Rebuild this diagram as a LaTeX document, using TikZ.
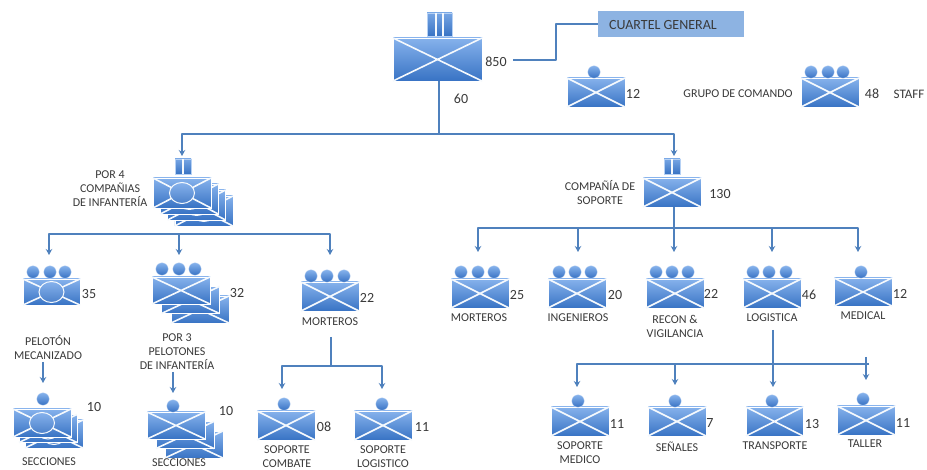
\documentclass[tikz,border=0pt]{standalone}
\usepackage{fontspec}
\setmainfont{Carlito}
\usetikzlibrary{arrows.meta,shadows,shapes.geometric}
\definecolor{linkblue}{HTML}{4F81BD}
\definecolor{hdrblue}{HTML}{8DB3E2}
\definecolor{boxtop}{HTML}{86B2EC}
\definecolor{boxbot}{HTML}{3873C4}
\definecolor{inkgrey}{HTML}{3A3A3A}
\tikzset{
  unitbox/.style={rectangle,inner sep=0pt,outer sep=0pt,draw=white,line width=.8pt,top color=boxtop,bottom color=boxbot,
    drop shadow={shadow xshift=.8pt,shadow yshift=-.8pt,opacity=.3,fill=black}},
  crossline/.style={draw=white!92!boxtop,line width=1.6pt},
  ovalmark/.style={ellipse,inner sep=0pt,outer sep=0pt,draw=white!92!boxtop,line width=1pt,top color=boxtop,bottom color=boxbot!90!white,minimum width=25pt,minimum height=21pt},
  pip/.style={circle,inner sep=0pt,outer sep=0pt,minimum size=12.5pt,draw=white!60!boxtop,line width=.3pt,top color=boxtop,bottom color=boxbot},
  tabbox/.style={rectangle,inner sep=0pt,outer sep=0pt,top color=boxtop!80!boxbot,bottom color=boxbot,draw=boxtop!60!white,line width=.4pt},
  tabline/.style={draw=white!92!boxtop,line width=1.6pt},
  link/.style={draw=linkblue,line width=2.3pt,line join=round},
  linkarrow/.style={link,-{Stealth[length=6pt,width=6.5pt]}},
  lab/.style={inner sep=0pt,outer sep=0pt,text=inkgrey,font=\fontsize{12}{14}\selectfont,align=center},
  num/.style={inner sep=0pt,outer sep=0pt,text=inkgrey,font=\fontsize{14}{15}\selectfont},
}
% x1 y1 x2 y2
\newcommand{\mkrect}[5]{\node[unitbox,minimum width={(#4-(#2))*1pt},minimum height={(#5-(#3))*1pt}] (#1) at ({(#2+#4)/2},{(#3+#5)/2}) {};}
\newcommand{\mkcross}[5]{\mkrect{#1}{#2}{#3}{#4}{#5}\draw[crossline] (#1.north west) -- (#1.south east) (#1.north east) -- (#1.south west);}
\newcommand{\mkoval}[5]{\mkcross{#1}{#2}{#3}{#4}{#5}\node[ovalmark] (#1-o) at (#1.center) {};}
% name x1 y1 x2 y2 dx dy n kind
\newcommand{\mkstack}[9]{\foreach \k in {#8,...,1}{\pgfmathsetmacro{\ox}{\k*#6}\pgfmathsetmacro{\oy}{\k*#7}
  \csname mk#9\endcsname{#1-\k}{#2+\ox}{#3+\oy}{#4+\ox}{#5+\oy}}\csname mk#9\endcsname{#1}{#2}{#3}{#4}{#5}}
\newcommand{\mkpips}[3]{\foreach \px [count=\n] in {#3}{\node[pip] (#1-p\n) at (\px,#2) {};}}
\newcommand{\mktab}[6]{\node[tabbox,minimum width={(#4-(#2))*1pt},minimum height={(#5-(#3))*1pt}] (#1) at ({(#2+#4)/2},{(#3+#5)/2}) {};
  \foreach \tx in {#6}{\draw[tabline] (\tx,#3) -- (\tx,#5);}}
\begin{document}
\begin{tikzpicture}[x=1pt,y=-1pt]
\useasboundingbox (0,0) rectangle (927,470);
\fill[white] (0,0) rectangle (927,470);
% ---- headquarters
\mktab{hqtab}{427}{13}{452}{36}{436,443}
\mkcross{hq}{393}{38}{482}{81}
\node[num] (n850) at (496,62) {850};
\node[num] (n60) at (461,99) {60};
\node[rectangle,fill=hdrblue,inner sep=0pt,minimum width=146pt,minimum height=26pt] (cg) at (671,24) {};
\node[lab,font=\fontsize{14}{15}\selectfont] (cgt) at (663,25.5) {CUARTEL GENERAL};
\coordinate (cgs) at (513,60);
\draw[link] (cgs) -- (556,60) |- (cg.west);
\mkcross{u12}{567}{78}{625}{107}
\mkpips{u12}{72}{594}
\node[num] (n12a) at (633,94) {12};
\node[lab] (lgc) at (738,94) {GRUPO DE COMANDO};
\mkcross{u48}{801}{78}{859}{107}
\mkpips{u48}{72}{811,828,843}
\node[num] (n48) at (872,94) {48};
\node[lab,font=\fontsize{13}{14}\selectfont] (lst) at (909,94) {STAFF};
% ---- infantry company
\mktab{ctab}{175}{159}{191}{174}{183}
\mkstack{co}{153}{178}{211}{208}{7.3}{6}{3}{oval}
\node[lab] (lco) at (110,189) {POR 4\\COMPAÑIAS\\DE INFANTERÍA};
% ---- support company
\mktab{stab}{664}{159}{680}{174}{672}
\mkcross{so}{643}{178}{701}{207}
\node[lab] (lso) at (600,193) {COMPAÑÍA DE\\SOPORTE};
\node[num] (n130) at (720,194) {130};
% ---- trunk
\coordinate (t0) at (439,134);
\coordinate (tl) at (182,156);
\coordinate (tr) at (674,156);
\draw[link] (hq.south -| t0) -- (t0);
\draw[linkarrow] (t0) -| (tl);
\draw[linkarrow] (t0) -| (tr);
% ---- left row
\mkoval{m35}{23}{279}{80}{305}
\mkpips{m35}{272}{33,50,65}
\node[num] (n35) at (89,294) {35};
\mkstack{p32}{152}{277}{210}{304}{9.5}{9.5}{2}{cross}
\mkpips{p32}{269}{162,179,195}
\node[num] (n32) at (237,293) {32};
\mkcross{mo22}{301}{282}{359}{311}
\mkpips{mo22}{276}{311,327,344}
\node[num] (n22a) at (367,298) {22};
\node[lab] (lmo) at (330,322) {MORTEROS};
\coordinate (la) at (49,255);
\coordinate (lb) at (179,255);
\coordinate (lc) at (330,255);
\coordinate (lj) at (179,234);
\draw[linkarrow] (lj) -| (la);
\draw[linkarrow] (lj) -- (lb);
\draw[linkarrow] (lj) -| (lc);
% ---- platoons lower left
\node[lab] (lpm) at (48,348) {PELOTÓN\\MECANIZADO};
\coordinate (pma) at (43,362);
\coordinate (pmb) at (43,383);
\draw[linkarrow] (pma) -- (pmb);
\mkstack{s10a}{13}{409}{71}{437}{6}{5.5}{2}{oval}
\mkpips{s10a}{399}{43}
\node[num] (n10a) at (94,407) {10};
\node[lab] (lsa) at (49,462) {SECCIONES};
\node[lab] (lpi) at (177,352) {POR 3\\PELOTONES\\DE INFANTERÍA};
\coordinate (pia) at (173,372);
\coordinate (pib) at (173,393);
\draw[linkarrow] (pia) -- (pib);
\mkstack{s10b}{147}{412}{205}{439}{9}{9.5}{2}{cross}
\mkpips{s10b}{406}{173}
\node[num] (n10b) at (226,411) {10};
\node[lab] (lsb) at (179,463) {SECCIONES};
% ---- mortar support
\coordinate (ma) at (331,337);
\coordinate (mj) at (331,366);
\coordinate (mb) at (282,389);
\coordinate (mc) at (382,389);
\draw[link] (ma) -- (mj);
\draw[linkarrow] (mj) -| (mb);
\draw[linkarrow] (mj) -| (mc);
\mkcross{u08}{257}{411}{315}{440}
\mkpips{u08}{404}{284}
\node[num] (n08) at (324,427) {08};
\node[lab] (l08) at (287,456.5) {SOPORTE\\COMBATE};
\mkcross{u11a}{354}{411}{412}{440}
\mkpips{u11a}{404}{382}
\node[num] (n11a) at (422,427) {11};
\node[lab] (l11a) at (383,456.5) {SOPORTE\\LOGISTICO};
% ---- right row
\coordinate (rj) at (674,228);
\draw[link] (so.south -| rj) -- (rj);
\foreach \nm/\ax in {r1/478,r2/578,r3/674,r4/772,r5/858}{\coordinate (\nm) at (\ax,252);}
\draw[linkarrow] (rj) -| (r1);
\draw[linkarrow] (rj) -| (r2);
\draw[linkarrow] (rj) -- (r3);
\draw[linkarrow] (rj) -| (r4);
\draw[linkarrow] (rj) -| (r5);
\mkcross{u25}{451}{279}{509}{308}
\mkpips{u25}{272}{461,478,494}
\node[num] (n25) at (517,295) {25};
\node[lab] (l25) at (479,318) {MORTEROS};
\mkcross{u20}{548}{279}{606}{308}
\mkpips{u20}{272}{559,575,591}
\node[num] (n20) at (615,295) {20};
\node[lab] (l20) at (578,318) {INGENIEROS};
\mkcross{u22}{646}{279}{704}{308}
\mkpips{u22}{272}{656,672,688}
\node[num] (n22b) at (711,294) {22};
\node[lab] (l22) at (675,326) {RECON \&\\VIGILANCIA};
\mkcross{u46}{743}{279}{801}{308}
\mkpips{u46}{272}{753,769,786}
\node[num] (n46) at (809,295) {46};
\node[lab] (l46) at (772,318) {LOGISTICA};
\mkcross{u12b}{834}{278}{892}{306}
\mkpips{u12b}{272}{861}
\node[num] (n12b) at (900,294) {12};
\node[lab] (l12b) at (863,316) {MEDICAL};
% ---- logistics row
\coordinate (ka) at (773,330);
\coordinate (kj) at (773,364);
\coordinate (ke) at (869,364);
\coordinate (k1) at (577,387);
\coordinate (k2a) at (675,364);
\coordinate (k2) at (675,385);
\coordinate (k3) at (773,387);
\coordinate (k4t) at (866,357);
\coordinate (k4) at (866,380);
\draw[link] (ka) -- (kj);
\draw[link] (ke) -- (kj);
\draw[linkarrow] (kj) -| (k1);
\draw[linkarrow] (k2a) -- (k2);
\draw[linkarrow] (kj) -- (k3);
\draw[linkarrow] (k4t) -- (k4);
\mkcross{u11b}{551}{407}{609}{436}
\mkpips{u11b}{401}{578}
\node[num] (n11b) at (617,424) {11};
\node[lab] (l11b) at (580,453) {SOPORTE\\MEDICO};
\mkcross{u7}{648}{407}{706}{436}
\mkpips{u7}{401}{675}
\node[num] (n7) at (710,423) {7};
\node[lab] (l7) at (677,447) {SEÑALES};
\mkcross{u13}{746}{407}{803}{436}
\mkpips{u13}{401}{772}
\node[num] (n13) at (812,424) {13};
\node[lab] (l13) at (775,446) {TRANSPORTE};
\mkcross{u11c}{837}{406}{895}{435}
\mkpips{u11c}{399}{863}
\node[num] (n11c) at (903,423) {11};
\node[lab] (l11c) at (865,444) {TALLER};
\end{tikzpicture}
\end{document}
